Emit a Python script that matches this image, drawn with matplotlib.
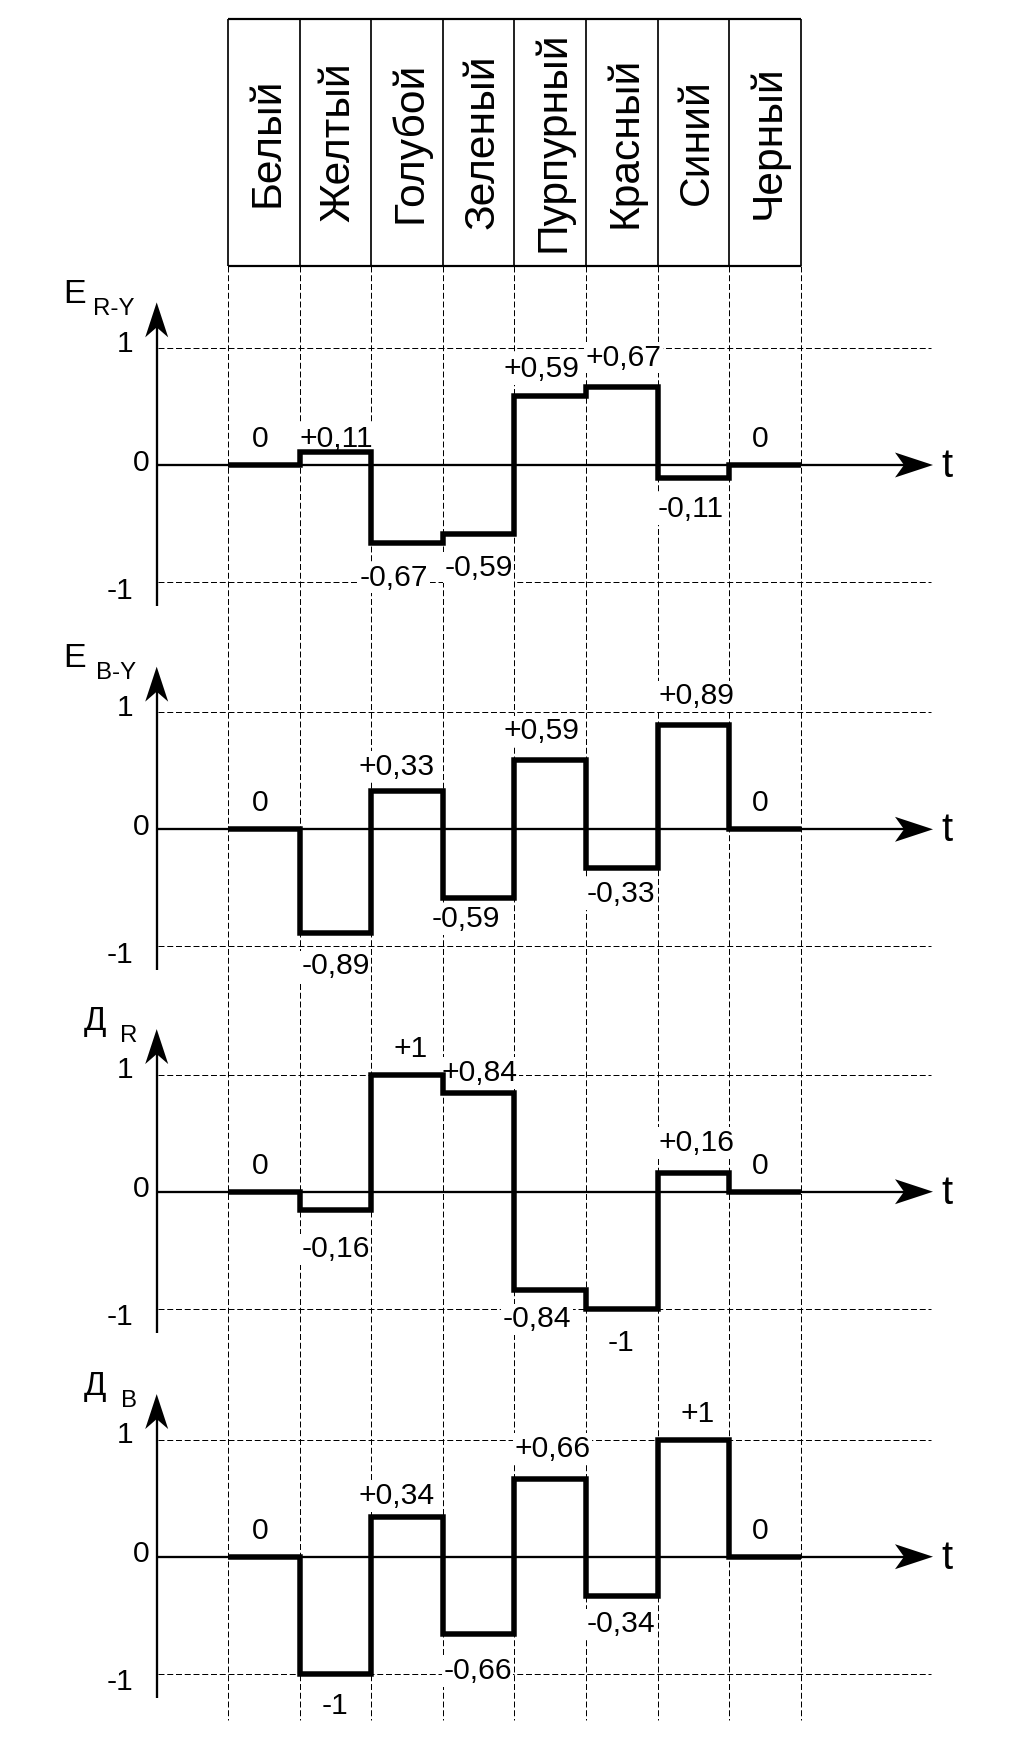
import numpy as np
import matplotlib
matplotlib.use("Agg")
import matplotlib.pyplot as plt
from matplotlib.patches import Polygon

# ---------------- data ----------------
colors = ["Белый", "Желтый", "Голубой", "Зеленый", "Пурпурный", "Красный", "Синий", "Черный"]
e_ry = [0, 0.11, -0.67, -0.59, 0.59, 0.67, -0.11, 0]
e_by = [0, -0.89, 0.33, -0.59, 0.59, -0.33, 0.89, 0]
d_r = [0, -0.16, 1, 0.84, -0.84, -1, 0.16, 0]
d_b = [0, -1, 0.34, -0.66, 0.66, -0.34, 1, 0]
y_ticks = [1, 0, -1]
panel_names = ["E", "E", "Д", "Д"]
panel_subs = ["R-Y", "B-Y", "R", "B"]
series = [e_ry, e_by, d_r, d_b]

# ---------------- layout (pixels) ----------------
W, H, DPI = 1012, 1743, 100
X0, CW, UNIT = 228.0, 71.6, 117.0          # first column edge, column width, px per unit
zeros = [465.0, 829.3, 1191.7, 1556.7]      # pixel row of zero level for each panel
TAB_TOP, TAB_BOT, VLINE_END = 19.0, 266.0, 1720.0
YAX_PX = 156.7

lbl_dx = [[-4, 1, -13, 0, -9, 2, -3, -4.5],
          [-4, 0, -10, -13, -9, -1, 3, -4.5],
          [-4, 0, 4, 1, -13, -1, 3, -4.5],
          [-4, 0, -10, -1, 2, -1, 4, -4.5]]
lbl_dy = [[-28.3, -15.4, 31.6, 31, -29.3, -31.6, 28.8, -28.3],
          [-29.3, 29.9, -26.7, 18.4, -32, 23.8, -31.9, -29.3],
          [-28.4, 36.3, -28, -23.4, 26.7, 31.3, -33, -28.4],
          [-28.4, 29.6, -23.6, 34.4, -33.5, 25.2, -28, -28.4]]
name_left = [63, 63, 84, 84]
sub_left = [93, 96, 120, 121]
name_fs_px = [34.0, 34.0, 33.0, 33.0]

PT = 72.0 / DPI
FS_NUM = 30.0        # px
FS_TAB = 42.5
FS_SUB = 24.0
FS_T = 40.0

plt.rcParams["font.family"] = ["Liberation Sans", "DejaVu Sans"]
plt.rcParams["lines.scale_dashes"] = False

fig = plt.figure(figsize=(W / DPI, H / DPI), dpi=DPI)
fig.patch.set_facecolor("white")

def xd(px):
    return (px - X0) / CW

XLIM = (xd(0), xd(W))
DASH = (0, (4.3, 2.0))

# ---------------- table + vertical guides ----------------
axt = fig.add_axes([0, 0, 1, 1], label="table")
axt.set_xlim(*XLIM)
axt.set_ylim(H, 0)
axt.set_axis_off()
axt.patch.set_visible(False)
n = len(colors)
edges = np.arange(n + 1)
axt.hlines([TAB_TOP, TAB_BOT], 0, n, color="black", lw=2.2 * PT, zorder=3)
axt.vlines(edges, TAB_TOP, TAB_BOT, color="black", lw=1.7 * PT, zorder=3)
axt.vlines(edges, TAB_BOT, VLINE_END, color="black", lw=1.0 * PT, linestyles=DASH, zorder=1)
for i, name in enumerate(colors):
    axt.text(i + 0.5 + 14.5 / CW, 142, name, rotation=90, rotation_mode="anchor",
             ha="center", va="baseline", fontsize=FS_TAB * PT, color="black", zorder=4)

# ---------------- panels ----------------
for k, vals in enumerate(series):
    z = zeros[k]
    ax = fig.add_axes([0, 0, 1, 1], label=f"panel{k}")
    ax.set_xlim(*XLIM)
    ax.set_ylim((z - H) / UNIT, z / UNIT)
    ax.set_axis_off()
    ax.patch.set_visible(False)

    # dashed +-1 levels
    ax.hlines([1, -1], xd(158), xd(931), color="black", lw=1.0 * PT, linestyles=DASH, zorder=1)

    # axes lines
    tip_y = 1.39
    ax.plot([xd(YAX_PX), xd(YAX_PX)], [-1.205, tip_y - 0.15], color="black", lw=2.3 * PT,
            solid_capstyle="butt", zorder=3)
    ax.plot([xd(YAX_PX), xd(905)], [0, 0], color="black", lw=2.3 * PT,
            solid_capstyle="butt", zorder=3)
    # y arrow head (notched)
    ax.add_patch(Polygon([[xd(YAX_PX), tip_y],
                          [xd(YAX_PX - 11.5), tip_y - 35 / UNIT],
                          [xd(YAX_PX), tip_y - 25 / UNIT],
                          [xd(YAX_PX + 11.5), tip_y - 35 / UNIT]],
                         closed=True, facecolor="black", edgecolor="none", zorder=6))
    # x arrow head
    ax.add_patch(Polygon([[xd(933), 0],
                          [xd(895), 12.5 / UNIT],
                          [xd(904), 0],
                          [xd(895), -12.5 / UNIT]],
                         closed=True, facecolor="black", edgecolor="none", zorder=6))
    ax.text(xd(941), -12 / UNIT, "t", ha="left", va="baseline", fontsize=FS_T * PT, zorder=6)

    # y tick labels
    tick_right = {1: 133, 0: 149, -1: 133}
    tick_dy = {1: -7, 0: -5, -1: 6}
    for t in y_ticks:
        base = t - (tick_dy[t] + 0.358 * FS_NUM) / UNIT
        ax.text(xd(tick_right[t]), base, f"{t:d}", ha="right", va="baseline",
                fontsize=FS_NUM * PT, zorder=6)

    # panel title
    ax.text(xd(name_left[k]), 162 / UNIT, panel_names[k], ha="left", va="baseline",
            fontsize=name_fs_px[k] * PT, zorder=6)
    ax.text(xd(sub_left[k]), 150 / UNIT, panel_subs[k], ha="left", va="baseline",
            fontsize=FS_SUB * PT, zorder=6)

    # step signal
    sp = ax.stairs(vals, edges, baseline=None, color="black", lw=5.5 * PT, zorder=5)
    sp.set_joinstyle("miter")
    sp.set_capstyle("butt")

    # value labels
    for i, v in enumerate(vals):
        if v == 0:
            s = "0"
        elif abs(v) == 1:
            s = f"{v:+.0f}"
        else:
            s = f"{v:+.2f}".replace(".", ",")
        x = i + 0.5 + lbl_dx[k][i] / CW
        y = v - (lbl_dy[k][i] + 0.358 * FS_NUM) / UNIT
        ax.text(x, y, s, ha="center", va="baseline", fontsize=FS_NUM * PT, zorder=4,
                bbox=dict(facecolor="white", edgecolor="none", pad=1.0))

fig.savefig("out.png", dpi=DPI, facecolor="white")
